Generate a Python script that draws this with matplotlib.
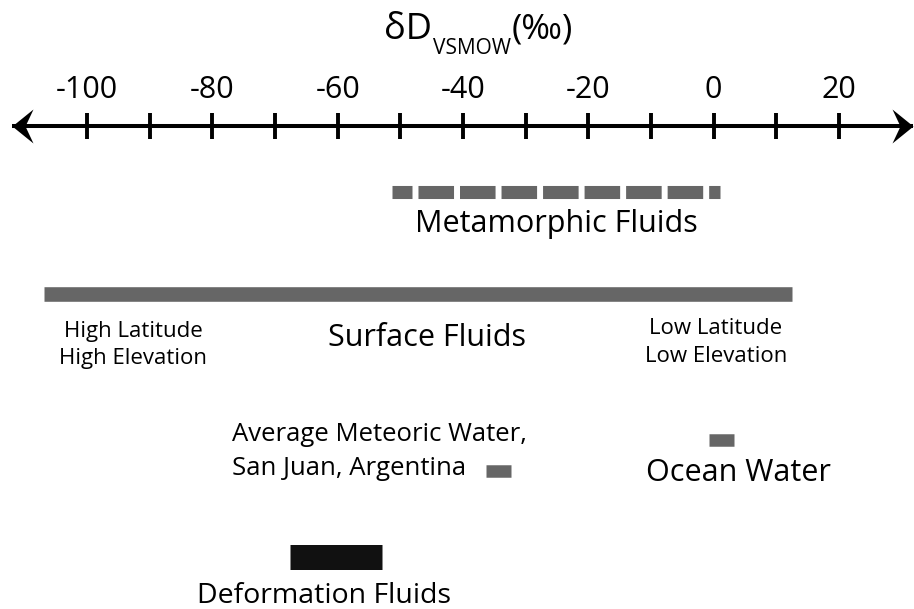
import matplotlib
matplotlib.use('Agg')
import matplotlib.pyplot as plt
from matplotlib.path import Path

plt.rcParams['lines.scale_dashes'] = False
plt.rcParams['font.family'] = ['Open Sans', 'DejaVu Sans']

# dD (permil VSMOW) ranges
tick_values = list(range(-100, 30, 10))
tick_labels = ['-100', '-80', '-60', '-40', '-20', '0', '20']
axis_ends = (-112.0, 31.8)
metamorphic = (-51.3, 1.0)
surface = (-106.8, 12.6)
meteoric = (-36.3, -32.3)
ocean = (-0.8, 3.2)
deformation = (-67.6, -52.9)

gray = '#666666'

fig = plt.figure(figsize=(9.14, 6.09), dpi=100)
ax = fig.add_axes([0, 0, 1, 1])
ax.set_xlim(-113.9, 32.0)
ax.set_ylim(609, 0)
ax.axis('off')

# number line, arrow heads as custom markers with the tip at the end point
head = [(0, 0), (-21, 17), (-13, 0), (-21, -17), (0, 0)]
codes = [Path.MOVETO, Path.LINETO, Path.LINETO, Path.LINETO, Path.CLOSEPOLY]
right_head = Path(head, codes)
left_head = Path([(-x, y) for x, y in head], codes)
ax.plot(axis_ends, [126, 126], color='black', lw=2.9, solid_capstyle='butt')
ax.plot(axis_ends[1], 126, marker=right_head, ms=42 * 0.72, color='black', mew=0)
ax.plot(axis_ends[0], 126, marker=left_head, ms=42 * 0.72, color='black', mew=0)
ax.vlines(tick_values, 113, 139, color='black', lw=2.8)
for v, lab in zip(tick_values[::2], tick_labels):
    ax.text(v, 90, lab, ha='center', va='center', fontsize=22)

# axis title with a large, lowered subscript
ax.text(-44.9, 39, 'δD', ha='right', va='baseline', fontsize=26)
ax.text(-44.8, 54, 'VSMOW', ha='left', va='baseline', fontsize=15)
ax.text(-32.3, 39, '(‰)', ha='left', va='baseline', fontsize=25)

# metamorphic fluids (dashed bar)
ax.plot(metamorphic, [192, 192], color=gray, lw=9.4, dash_capstyle='butt',
        linestyle=(11.2, (25.6, 4.3)))
ax.text(sum(metamorphic) / 2, 232, 'Metamorphic Fluids', ha='center', va='baseline',
        fontsize=22)

# surface fluids
ax.plot(surface, [294, 294], color=gray, lw=10.5, solid_capstyle='butt')
ax.text(-45.7, 346, 'Surface Fluids', ha='center', va='baseline', fontsize=22)
ax.text(-92.6, 345, 'High Latitude\nHigh Elevation', ha='center', va='center',
        fontsize=16, linespacing=1.38)
ax.text(0.4, 342.5, 'Low Latitude\nLow Elevation', ha='center', va='center',
        fontsize=16, linespacing=1.38)

# average meteoric water
ax.plot(meteoric, [471, 471], color=gray, lw=9.0, solid_capstyle='butt')
ax.text(-76.8, 451.5, 'Average Meteoric Water,\nSan Juan, Argentina', ha='left', va='center',
        fontsize=18.5, linespacing=1.43)

# ocean water
ax.plot(ocean, [440, 440], color=gray, lw=9.0, solid_capstyle='butt')
ax.text(3.9, 481, 'Ocean Water', ha='center', va='baseline', fontsize=22)

# deformation fluids
ax.plot(deformation, [557, 557], color='#111111', lw=18.0, solid_capstyle='butt')
ax.text(-62.2, 603, 'Deformation Fluids', ha='center', va='baseline', fontsize=20.5)

fig.savefig('out.png', dpi=100)
